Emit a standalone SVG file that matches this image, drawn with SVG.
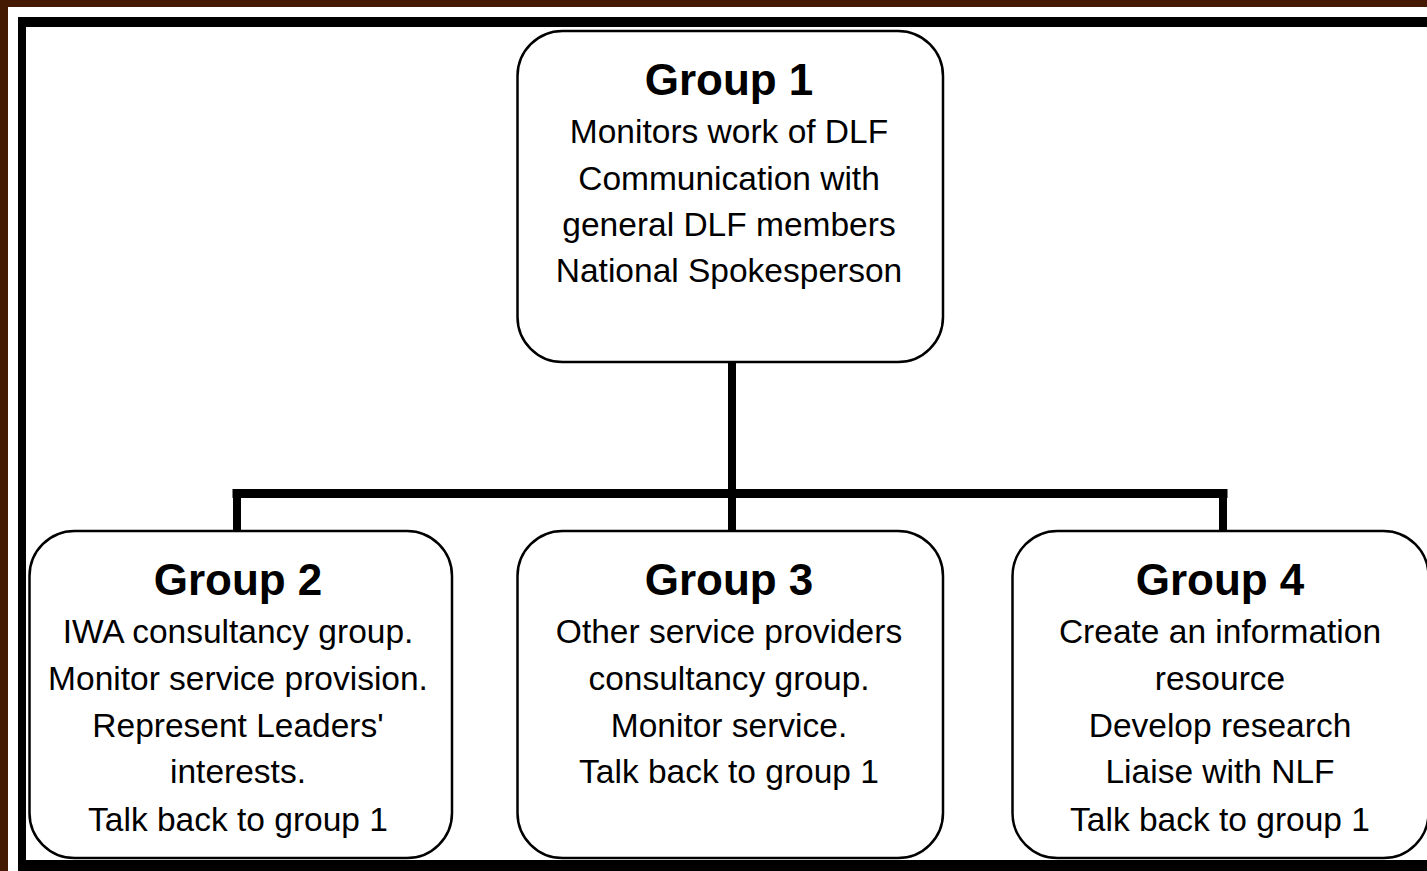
<svg xmlns="http://www.w3.org/2000/svg" width="1427" height="871" viewBox="0 0 1427 871">
  <style>
    .box { fill: #ffffff; stroke: #000000; stroke-width: 2.5; }
    .title { font-family: "Liberation Sans", Arial, sans-serif; font-weight: bold; font-size: 44px; fill: #000; text-anchor: middle; }
    .body { font-family: "Liberation Sans", Arial, sans-serif; font-size: 33.5px; fill: #000; text-anchor: middle; }
    .conn { stroke: #000000; fill: none; stroke-linecap: square; }
  </style>
  <!-- frame -->
  <rect x="0" y="0" width="1427" height="871" fill="#451a03"/>
  <rect x="8" y="7" width="1430" height="880" fill="#ffffff"/>
  <rect x="18" y="17" width="1420" height="870" fill="#000000"/>
  <rect x="26" y="27" width="1412" height="833" fill="#ffffff"/>

  <g id="connectors">
    <line class="conn" x1="732" y1="362" x2="732" y2="530" stroke-width="8"/>
    <line class="conn" x1="237" y1="493.5" x2="1223" y2="493.5" stroke-width="9"/>
    <line class="conn" x1="237" y1="493.5" x2="237" y2="530" stroke-width="8"/>
    <line class="conn" x1="1223" y1="493.5" x2="1223" y2="530" stroke-width="8"/>
  </g>

  <g id="group1">
    <rect class="box" x="517.5" y="31" width="425.5" height="331" rx="45" ry="45"/>
    <text class="title" x="729" y="95">Group 1</text>
    <text class="body" x="729" y="143">Monitors work of DLF</text>
    <text class="body" x="729" y="190">Communication with</text>
    <text class="body" x="729" y="236">general DLF members</text>
    <text class="body" x="729" y="282">National Spokesperson</text>
  </g>

  <g id="group2">
    <rect class="box" x="29.5" y="531" width="422.5" height="327" rx="45" ry="45"/>
    <text class="title" x="238" y="595">Group 2</text>
    <text class="body" x="238" y="643">IWA consultancy group.</text>
    <text class="body" x="238" y="690">Monitor service provision.</text>
    <text class="body" x="238" y="737">Represent Leaders'</text>
    <text class="body" x="238" y="783">interests.</text>
    <text class="body" x="238" y="831">Talk back to group 1</text>
  </g>

  <g id="group3">
    <rect class="box" x="517.5" y="531" width="425.5" height="327" rx="45" ry="45"/>
    <text class="title" x="729" y="595">Group 3</text>
    <text class="body" x="729" y="643">Other service providers</text>
    <text class="body" x="729" y="690">consultancy group.</text>
    <text class="body" x="729" y="737">Monitor service.</text>
    <text class="body" x="729" y="783">Talk back to group 1</text>
  </g>

  <g id="group4">
    <rect class="box" x="1012.5" y="531" width="416" height="327" rx="45" ry="45"/>
    <text class="title" x="1220" y="595">Group 4</text>
    <text class="body" x="1220" y="643">Create an information</text>
    <text class="body" x="1220" y="690">resource</text>
    <text class="body" x="1220" y="737">Develop research</text>
    <text class="body" x="1220" y="783">Liaise with NLF</text>
    <text class="body" x="1220" y="831">Talk back to group 1</text>
  </g>
</svg>
